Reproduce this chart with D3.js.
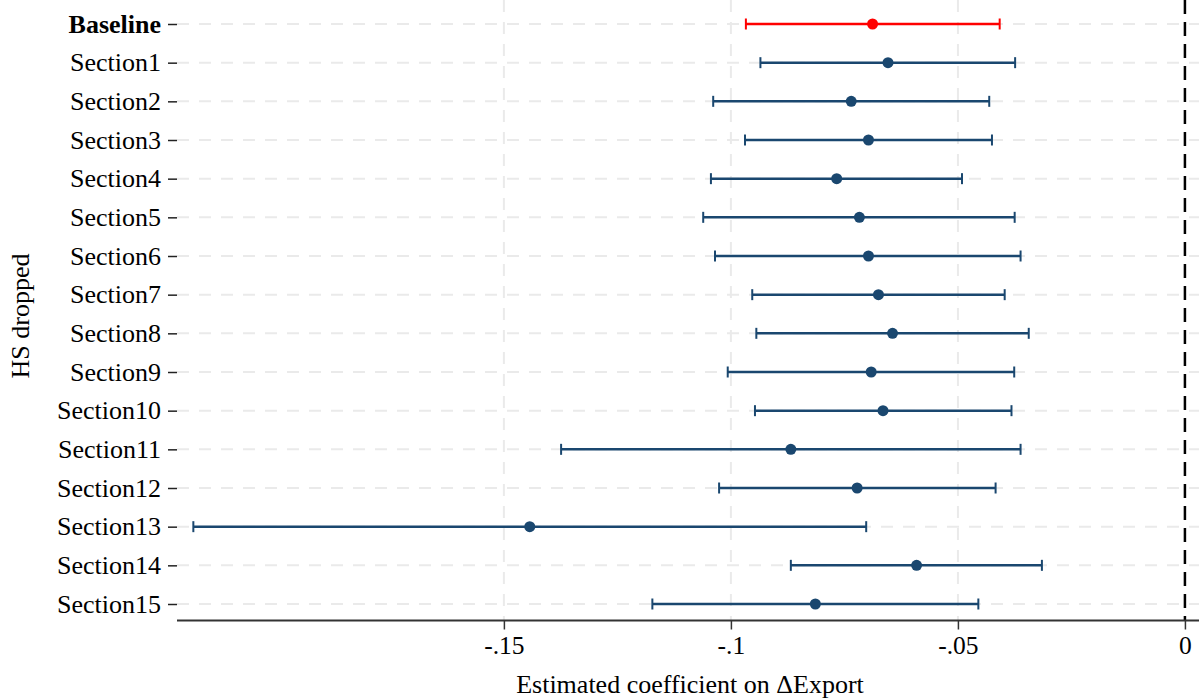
<!DOCTYPE html>
<html>
<head>
<meta charset="utf-8">
<script src="https://cdn.jsdelivr.net/npm/d3@7"></script>
<style>
	body { margin: 0; background: #fff; }
	svg { display: block; font-family: "Liberation Serif", "Times New Roman", serif; }
</style>
</head>
<body>
<svg id="chart" width="1199" height="700"></svg>
<script>
// rows, top to bottom
var labels = ["Baseline", "Section1", "Section2", "Section3", "Section4", "Section5",
	"Section6", "Section7", "Section8", "Section9", "Section10", "Section11",
	"Section12", "Section13", "Section14", "Section15"];
var estimates = [-0.0688, -0.0654, -0.0735, -0.0697, -0.0767, -0.0717,
	-0.0697, -0.0675, -0.0644, -0.0691, -0.0665, -0.0868,
	-0.0722, -0.1443, -0.0591, -0.0814];
var lower = [-0.0967, -0.0935, -0.1039, -0.0969, -0.1044, -0.1061,
	-0.1035, -0.0953, -0.0944, -0.1007, -0.0947, -0.1374,
	-0.1026, -0.2184, -0.0868, -0.1173];
var upper = [-0.0408, -0.0374, -0.0431, -0.0425, -0.0491, -0.0375,
	-0.0362, -0.0397, -0.0344, -0.0376, -0.0382, -0.0362,
	-0.0417, -0.0702, -0.0315, -0.0455];
var xTicks = [-0.15, -0.1, -0.05, 0];
var xTickLabels = ["-.15", "-.1", "-.05", "0"];

var svg = d3.select("#chart"),
	left = 177, right = 1199, top = 6, bottom = 620.5;

var x = d3.scaleLinear().domain([-0.222, 0.0031]).range([left, right]);
var y = d3.scalePoint().domain(labels).range([24, 604]);

var navy = "#1a476f", red = "#ff0000", grid = "#eaeaea";

// gridlines
svg.append("g").selectAll("line").data(labels).join("line")
	.attr("x1", left).attr("x2", right)
	.attr("y1", function(d) { return y(d); }).attr("y2", function(d) { return y(d); })
	.attr("stroke", grid).attr("stroke-width", 2).attr("stroke-dasharray", "12,10");
svg.append("g").selectAll("line").data(xTicks.slice(0, 3)).join("line")
	.attr("x1", function(d) { return x(d); }).attr("x2", function(d) { return x(d); })
	.attr("y1", top).attr("y2", bottom)
	.attr("stroke", grid).attr("stroke-width", 2).attr("stroke-dasharray", "12,10");

// zero reference line
svg.append("line")
	.attr("x1", x(0)).attr("x2", x(0)).attr("y1", top).attr("y2", bottom)
	.attr("stroke", "#000").attr("stroke-width", 2.5).attr("stroke-dasharray", "14,8");

// axes
var xAxis = d3.axisBottom(x).tickValues(xTicks)
	.tickFormat(function(d, i) { return xTickLabels[i]; })
	.tickSizeInner(9).tickSizeOuter(0).tickPadding(6);
var gx = svg.append("g").attr("transform", "translate(0," + bottom + ")").call(xAxis);
gx.attr("font-family", null).attr("font-size", null);
gx.select(".domain").attr("stroke", "#333").attr("stroke-width", 2)
	.attr("d", "M" + left + ",0H" + right);
gx.selectAll(".tick line").attr("stroke", "#333").attr("stroke-width", 1.5);
gx.selectAll(".tick text").attr("font-size", 25.5).attr("fill", "#000");

var yAxis = d3.axisLeft(y).tickSizeInner(9).tickSizeOuter(0).tickPadding(7);
var gy = svg.append("g").attr("transform", "translate(" + left + ",0)").call(yAxis);
gy.attr("font-family", null).attr("font-size", null);
gy.select(".domain").attr("stroke", "#222").attr("stroke-width", 2)
	.attr("d", "M0," + top + "V" + bottom);
gy.selectAll(".tick line").attr("stroke", "#222").attr("stroke-width", 1.5);
gy.selectAll(".tick text").attr("font-size", 26).attr("fill", "#000")
	.attr("font-weight", function(d) { return d === "Baseline" ? "bold" : "normal"; });

// error bars
var rows = labels.map(function(l, i) {
	return { label: l, est: estimates[i], lo: lower[i], hi: upper[i], color: i === 0 ? red : navy };
});
var g = svg.append("g");
var bar = g.selectAll("g").data(rows).join("g");
bar.append("line")
	.attr("x1", function(d) { return x(d.lo); }).attr("x2", function(d) { return x(d.hi); })
	.attr("y1", function(d) { return y(d.label); }).attr("y2", function(d) { return y(d.label); })
	.attr("stroke", function(d) { return d.color; }).attr("stroke-width", 2.5);
bar.append("line")
	.attr("x1", function(d) { return x(d.lo); }).attr("x2", function(d) { return x(d.lo); })
	.attr("y1", function(d) { return y(d.label) - 5.5; }).attr("y2", function(d) { return y(d.label) + 5.5; })
	.attr("stroke", function(d) { return d.color; }).attr("stroke-width", 2);
bar.append("line")
	.attr("x1", function(d) { return x(d.hi); }).attr("x2", function(d) { return x(d.hi); })
	.attr("y1", function(d) { return y(d.label) - 5.5; }).attr("y2", function(d) { return y(d.label) + 5.5; })
	.attr("stroke", function(d) { return d.color; }).attr("stroke-width", 2);
bar.append("circle")
	.attr("cx", function(d) { return x(d.est); }).attr("cy", function(d) { return y(d.label); })
	.attr("r", 5.5).attr("fill", function(d) { return d.color; });

// titles
svg.append("text").attr("x", 690).attr("y", 693).attr("text-anchor", "middle")
	.attr("font-size", 26).attr("fill", "#000").text("Estimated coefficient on \u0394Export");
svg.append("text").attr("transform", "translate(29,316) rotate(-90)").attr("text-anchor", "middle")
	.attr("font-size", 26).attr("fill", "#000").text("HS dropped");
</script>
</body>
</html>
